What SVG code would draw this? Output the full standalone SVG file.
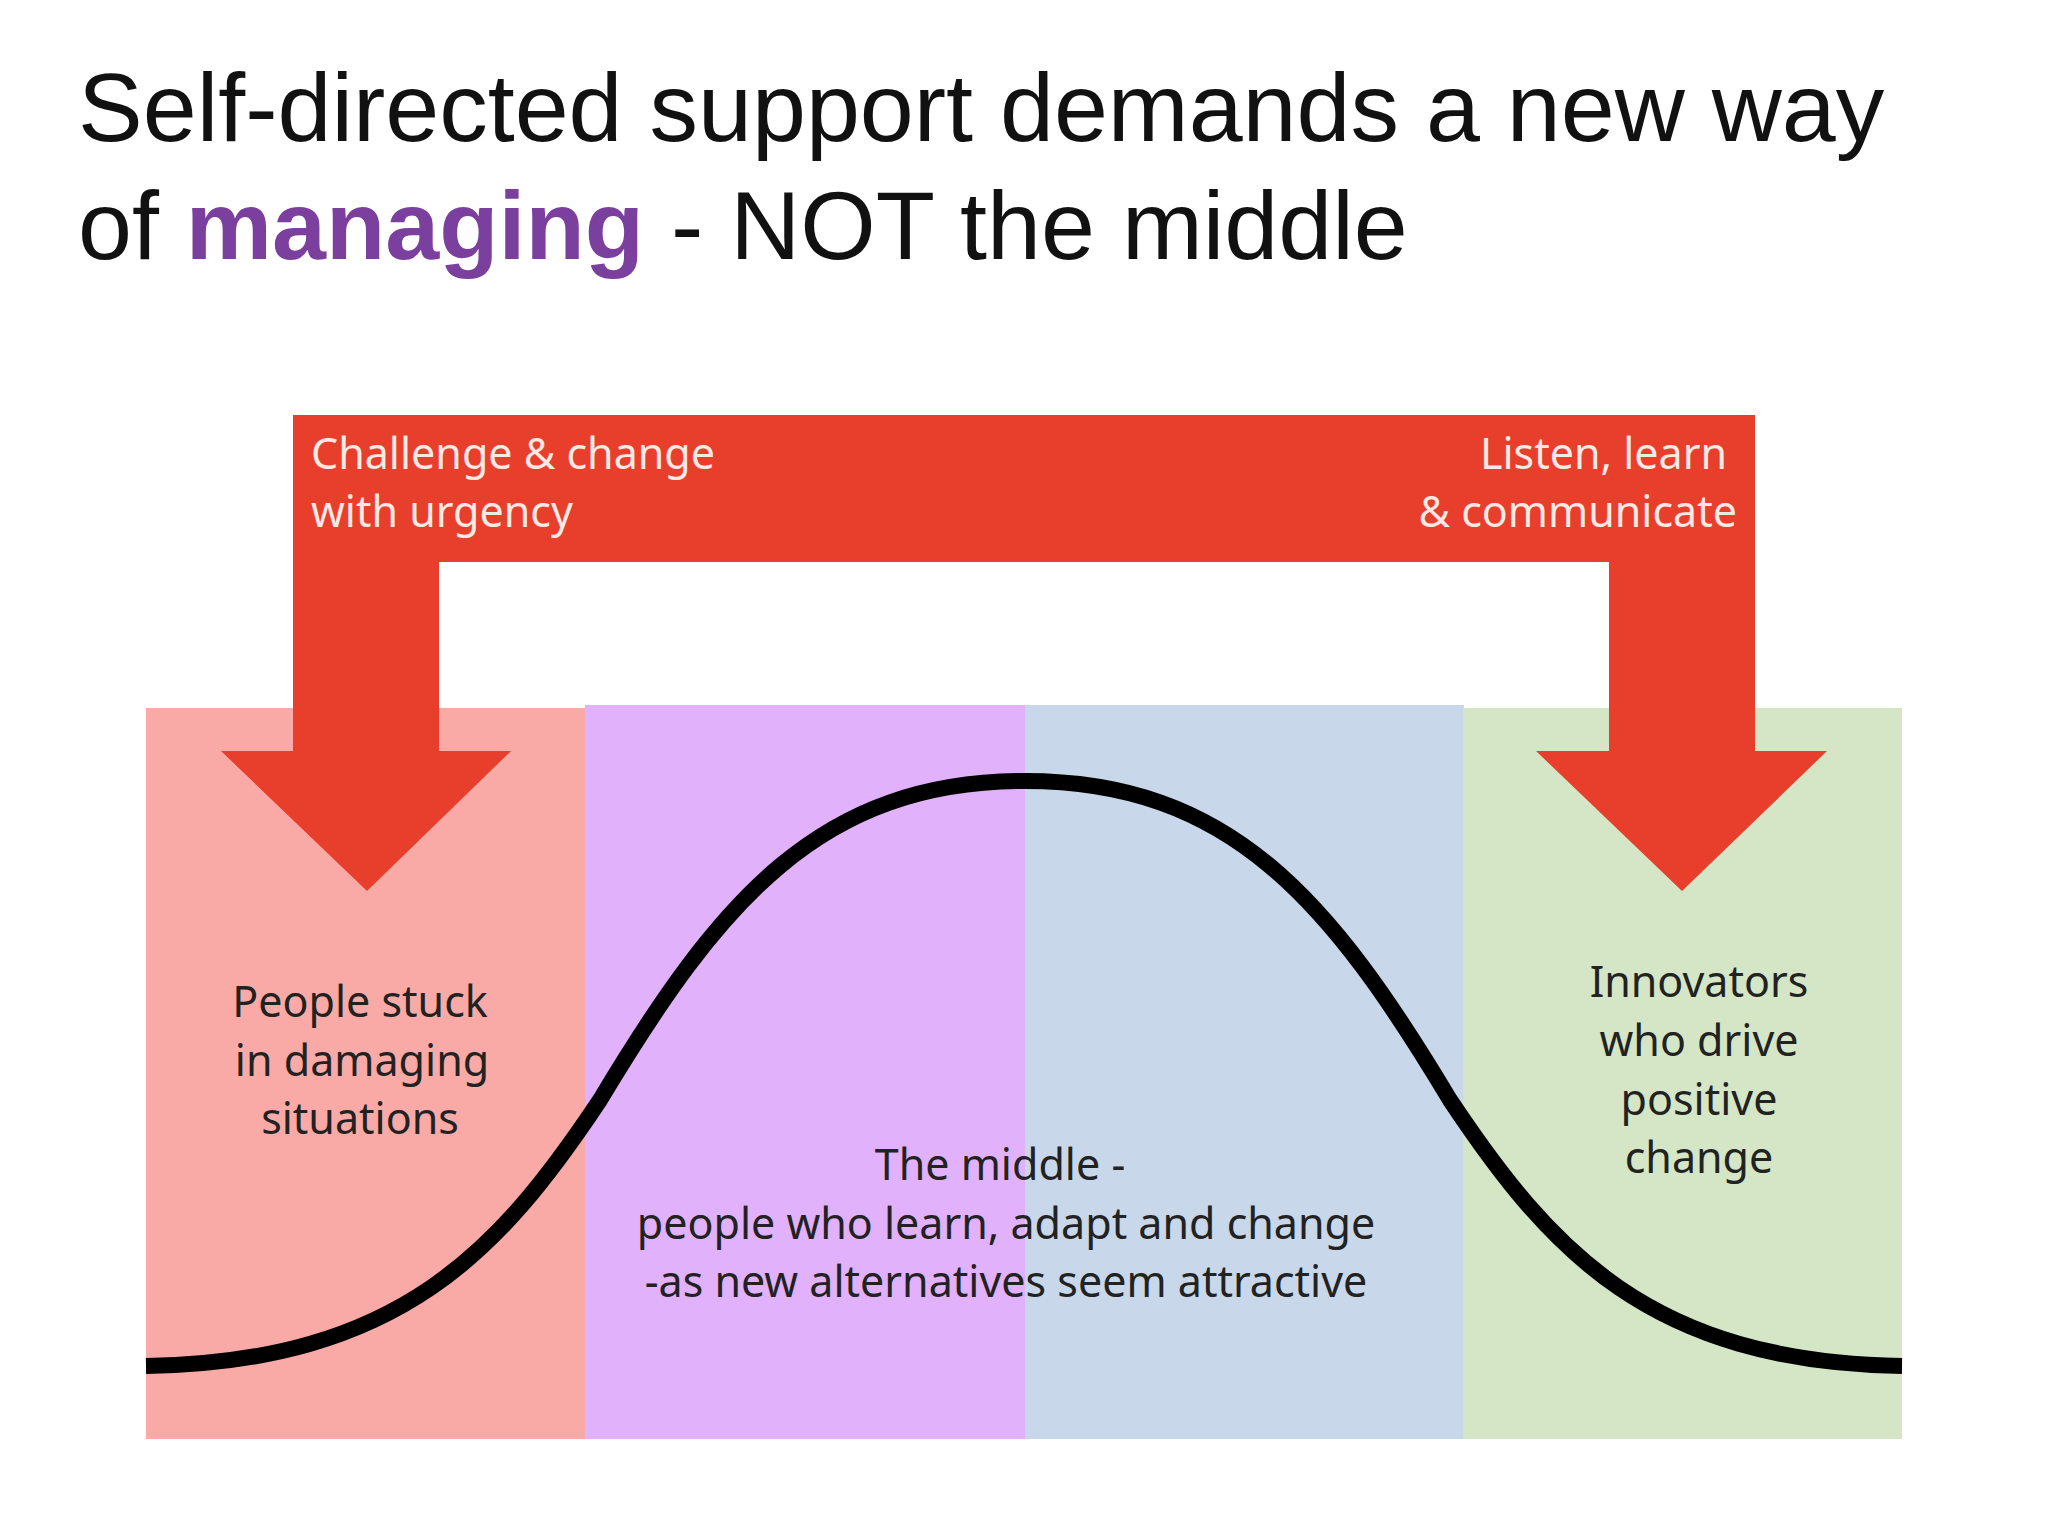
<svg xmlns="http://www.w3.org/2000/svg" width="2048" height="1536" viewBox="0 0 2048 1536">
<style>
.title{font-family:"Liberation Sans",Arial,sans-serif;font-size:97px;fill:#111}
.wt{font-family:"Noto Sans","Open Sans",sans-serif;font-size:43px;fill:#fde9e4}
.lb{font-family:"Noto Sans","Open Sans",sans-serif;font-size:43px;fill:#222;text-anchor:middle}
.red{fill:#e83e2c}
</style>
<rect width="2048" height="1536" fill="#fff"/>
<g id="title">
<text class="title" x="78" y="141">Self-directed support demands a new way</text>
<text class="title" x="78" y="259">of <tspan fill="#7b3f9e" font-weight="bold">managing</tspan> - NOT the middle</text>
</g>
<g id="bands">
<rect id="stuck-band" x="146" y="708" width="440" height="731" fill="#f9aaa6"/>
<rect id="middle-left" x="585" y="705" width="441" height="734" fill="#e2b1fb"/>
<rect id="middle-right" x="1025" y="705" width="439" height="734" fill="#c8d8ea"/>
<rect id="innov-band" x="1463" y="708" width="439" height="731" fill="#d4e6c6"/>
</g>
<g id="connectors">
<path class="red" d="M293,415 H1755 V751 H1827 L1682,891 L1536,751 H1609 V562 H439 V751 H511 L367,891 L221,751 H293 Z"/>
<path d="M146,1366 C400,1362 500,1250 600,1100 C720,900 820,781 1025,781 C1230,781 1330,900 1450,1100 C1550,1250 1650,1362 1902,1366" fill="none" stroke="#000" stroke-width="16"/>
</g>
<g id="arrow-labels">
<text class="wt" x="311" y="469">Challenge &amp; change</text>
<text class="wt" x="311" y="527">with urgency</text>
<text class="wt" x="1727" y="469" text-anchor="end">Listen, learn</text>
<text class="wt" x="1737" y="527" text-anchor="end">&amp; communicate</text>
</g>
<g id="stuck">
<text class="lb" x="360" y="1017">People stuck</text>
<text class="lb" x="362" y="1076">in damaging</text>
<text class="lb" x="360" y="1134">situations</text>
</g>
<g id="innovators">
<text class="lb" x="1699" y="997">Innovators</text>
<text class="lb" x="1699" y="1056">who drive</text>
<text class="lb" x="1699" y="1115">positive</text>
<text class="lb" x="1699" y="1173">change</text>
</g>
<g id="middle">
<text class="lb" x="1000" y="1180">The middle -</text>
<text class="lb" x="1006" y="1239">people who learn, adapt and change</text>
<text class="lb" x="1006" y="1297">-as new alternatives seem attractive</text>
</g>
</svg>
